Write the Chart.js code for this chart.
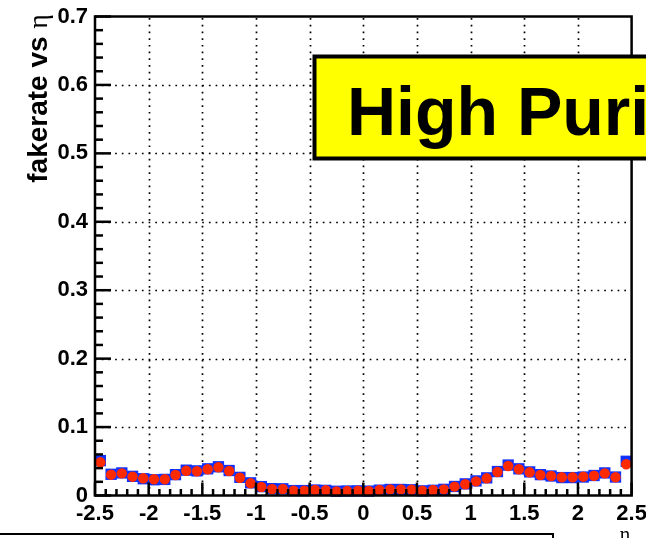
<!DOCTYPE html>
<html>
<head>
<meta charset="utf-8">
<script src="https://cdn.jsdelivr.net/npm/chart.js@4.4.1/dist/chart.umd.min.js"></script>
<style>
  html, body { margin: 0; padding: 0; background: #fff; overflow: hidden; }
  #wrap { position: relative; width: 646px; height: 538px; }
</style>
</head>
<body>
<div id="wrap"><canvas id="c" width="646" height="538"></canvas></div>
<script>
// eta bin centres (bin width 0.1)
const etaBins = [-2.45, -2.35, -2.25, -2.15, -2.05, -1.95, -1.85, -1.75, -1.65, -1.55,
                 -1.45, -1.35, -1.25, -1.15, -1.05, -0.95, -0.85, -0.75, -0.65, -0.55,
                 -0.45, -0.35, -0.25, -0.15, -0.05, 0.05, 0.15, 0.25, 0.35, 0.45,
                 0.55, 0.65, 0.75, 0.85, 0.95, 1.05, 1.15, 1.25, 1.35, 1.45,
                 1.55, 1.65, 1.75, 1.85, 1.95, 2.05, 2.15, 2.25, 2.35, 2.45];

// fake rate per bin, blue square series
const fakeRateBlue = [0.0510, 0.0310, 0.0330, 0.0280, 0.0245, 0.0230, 0.0235, 0.0305, 0.0370, 0.0360,
                      0.0390, 0.0420, 0.0365, 0.0265, 0.0185, 0.0130, 0.0100, 0.0098, 0.0072, 0.0072,
                      0.0080, 0.0075, 0.0062, 0.0066, 0.0068, 0.0064, 0.0078, 0.0088, 0.0088, 0.0084,
                      0.0068, 0.0076, 0.0090, 0.0132, 0.0170, 0.0213, 0.0258, 0.0350, 0.0445, 0.0390,
                      0.0345, 0.0305, 0.0285, 0.0262, 0.0262, 0.0270, 0.0292, 0.0330, 0.0270, 0.0500];

// fake rate per bin, red circle series
const fakeRateRed = [0.0485, 0.0304, 0.0324, 0.0275, 0.0251, 0.0237, 0.0237, 0.0300, 0.0362, 0.0354,
                     0.0383, 0.0412, 0.0358, 0.0260, 0.0178, 0.0124, 0.0095, 0.0095, 0.0070, 0.0070,
                     0.0080, 0.0076, 0.0061, 0.0066, 0.0070, 0.0066, 0.0080, 0.0090, 0.0090, 0.0085,
                     0.0070, 0.0080, 0.0090, 0.0129, 0.0164, 0.0207, 0.0251, 0.0343, 0.0431, 0.0383,
                     0.0339, 0.0300, 0.0285, 0.0266, 0.0266, 0.0275, 0.0289, 0.0324, 0.0266, 0.0456];

// axis ticks
const etaTicks = [-2.5, -2, -1.5, -1, -0.5, 0, 0.5, 1, 1.5, 2, 2.5];
const rateTicks = [0, 0.1, 0.2, 0.3, 0.4, 0.5, 0.6, 0.7];

// texts
const yTitleText = 'fakerate vs ';
const etaSymbol = '\u03b7';
const banner = 'High Purity';

const SANS = '"Liberation Sans", Arial, Helvetica, sans-serif';
const SERIF = '"Liberation Serif", "DejaVu Serif", serif';

// chart area geometry
const AREA = { left: 95, right: 631.6, top: 16.5, bottom: 495.5 };

const toPoints = (ys) => etaBins.map((x, i) => ({ x: x, y: ys[i] }));

const rootStyle = {
  id: 'rootStyle',
  beforeDatasetsDraw(chart) {
    const { ctx, chartArea: a, scales: { x, y } } = chart;
    ctx.save();
    ctx.strokeStyle = '#000';
    ctx.lineWidth = 1.7;
    ctx.setLineDash([1.7, 5]);
    etaTicks.slice(1, -1).forEach(v => {
      const px = Math.round(x.getPixelForValue(v)) + 0.5;
      ctx.beginPath(); ctx.moveTo(px, a.bottom); ctx.lineTo(px, a.top); ctx.stroke();
    });
    rateTicks.slice(1, -1).forEach(v => {
      const py = Math.round(y.getPixelForValue(v)) + 0.5;
      ctx.beginPath(); ctx.moveTo(a.left, py); ctx.lineTo(a.right, py); ctx.stroke();
    });
    ctx.restore();
  },
  afterDatasetsDraw(chart) {
    const { ctx, chartArea: a, scales: { x, y } } = chart;
    ctx.save();
    // frame
    ctx.strokeStyle = '#000';
    ctx.lineWidth = 2.5;
    ctx.strokeRect(a.left, a.top, a.right - a.left, a.bottom - a.top);

    // y-axis ticks (major 0.1, minor 0.02)
    for (let i = 0; i < rateTicks.length; i++) {
      const v = rateTicks[i];
      const py = y.getPixelForValue(v);
      ctx.beginPath(); ctx.moveTo(a.left, py); ctx.lineTo(a.left + 16, py); ctx.stroke();
      if (i < rateTicks.length - 1) {
        const step = (rateTicks[i + 1] - v) / 5;
        for (let k = 1; k < 5; k++) {
          const pm = y.getPixelForValue(v + k * step);
          ctx.beginPath(); ctx.moveTo(a.left, pm); ctx.lineTo(a.left + 8, pm); ctx.stroke();
        }
      }
    }
    // x-axis ticks (major 0.5, minor 0.1)
    for (let i = 0; i < etaTicks.length; i++) {
      const v = etaTicks[i];
      const px = x.getPixelForValue(v);
      ctx.beginPath(); ctx.moveTo(px, a.bottom); ctx.lineTo(px, a.bottom - 13); ctx.stroke();
      if (i < etaTicks.length - 1) {
        const step = (etaTicks[i + 1] - v) / 5;
        for (let k = 1; k < 5; k++) {
          const pm = x.getPixelForValue(v + k * step);
          ctx.beginPath(); ctx.moveTo(pm, a.bottom); ctx.lineTo(pm, a.bottom - 6.5); ctx.stroke();
        }
      }
    }

    // banner box
    ctx.fillStyle = '#ffff00';
    ctx.fillRect(314.5, 56.5, 420, 102);
    ctx.lineWidth = 4;
    ctx.strokeStyle = '#000';
    ctx.strokeRect(314.5, 56.5, 420, 102);
    ctx.fillStyle = '#000';
    ctx.font = 'bold 68px ' + SANS;
    ctx.textAlign = 'left';
    ctx.textBaseline = 'alphabetic';
    ctx.fillText(banner, 347, 135);

    // y-axis title, rotated, right-aligned to top of the frame
    ctx.save();
    ctx.translate(47, 14);
    ctx.rotate(-Math.PI / 2);
    ctx.textAlign = 'right';
    ctx.textBaseline = 'alphabetic';
    ctx.font = '28px ' + SERIF;
    const etaW = ctx.measureText(etaSymbol).width;
    ctx.fillText(etaSymbol, 0, 0);
    ctx.font = 'bold 28px ' + SANS;
    ctx.fillText(yTitleText, -etaW, 0);
    ctx.restore();

    // x-axis title
    ctx.font = '20px ' + SERIF;
    ctx.textAlign = 'center';
    ctx.fillText(etaSymbol, 625, 541);

    // legend box outline
    ctx.lineWidth = 2;
    ctx.strokeRect(-5, 534, 558, 20);
    ctx.restore();
  }
};

new Chart(document.getElementById('c'), {
  type: 'scatter',
  data: {
    datasets: [
      {
        label: 'blue',
        data: toPoints(fakeRateBlue),
        order: 2,
        pointStyle: 'rect',
        pointRadius: 8,
        backgroundColor: '#1030ff',
        borderColor: '#1030ff',
        borderWidth: 0,
        clip: false
      },
      {
        label: 'red',
        data: toPoints(fakeRateRed),
        order: 1,
        pointStyle: 'circle',
        pointRadius: 5.2,
        backgroundColor: '#ff2a00',
        borderColor: '#ff2a00',
        borderWidth: 0,
        clip: false
      }
    ]
  },
  options: {
    responsive: false,
    animation: false,
    devicePixelRatio: 1,
    layout: { padding: { top: AREA.top, right: 646 - AREA.right, bottom: 0, left: 0 } },
    plugins: { legend: { display: false }, tooltip: { enabled: false } },
    scales: {
      x: {
        type: 'linear',
        min: -2.5, max: 2.5,
        afterBuildTicks: (s) => { s.ticks = etaTicks.map(v => ({ value: v })); },
        afterFit: (s) => { s.height = 538 - AREA.bottom; s.paddingLeft = 0; s.paddingRight = 0; },
        grid: { display: false, drawTicks: false },
        border: { display: false },
        ticks: {
          padding: 5,
          color: '#000',
          font: { family: SANS, size: 22, weight: 'bold' },
          callback: (v) => String(v)
        }
      },
      y: {
        type: 'linear',
        min: 0, max: 0.7,
        afterBuildTicks: (s) => { s.ticks = rateTicks.map(v => ({ value: v })); },
        afterFit: (s) => { s.width = AREA.left; s.paddingTop = 0; s.paddingBottom = 0; },
        grid: { display: false, drawTicks: false },
        border: { display: false },
        ticks: {
          padding: 7,
          color: '#000',
          font: { family: SANS, size: 22, weight: 'bold' },
          callback: (v) => String(v)
        }
      }
    }
  },
  plugins: [rootStyle]
});
</script>
</body>
</html>
